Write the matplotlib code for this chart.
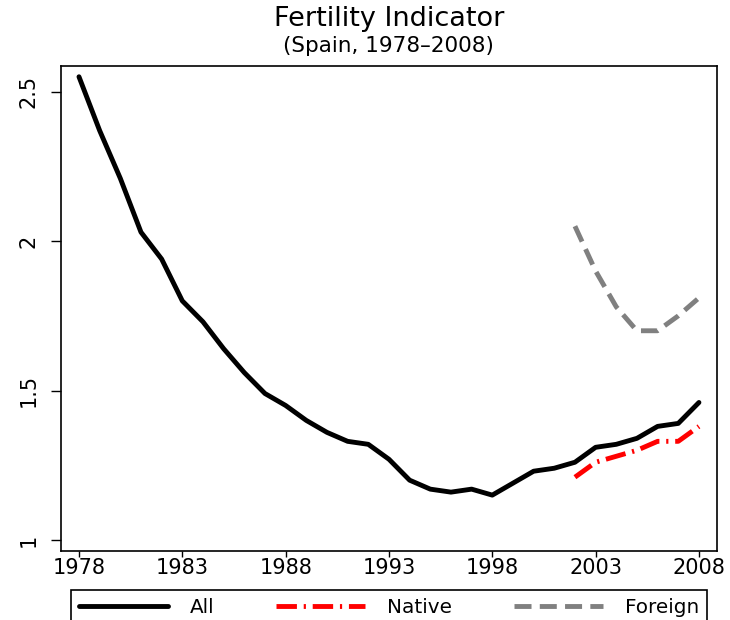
import matplotlib
matplotlib.use("Agg")
import matplotlib.pyplot as plt

years = list(range(1978, 2009))
all_tfr = [2.55, 2.37, 2.21, 2.03, 1.94, 1.80, 1.73, 1.64, 1.56, 1.49,
           1.45, 1.40, 1.36, 1.33, 1.32, 1.27, 1.20, 1.17, 1.16, 1.17,
           1.15, 1.19, 1.23, 1.24, 1.26, 1.31, 1.32, 1.34, 1.38, 1.39, 1.46]

years_recent = list(range(2002, 2009))
native_tfr = [1.21, 1.26, 1.28, 1.30, 1.33, 1.33, 1.38]
foreign_tfr = [2.05, 1.90, 1.78, 1.70, 1.70, 1.75, 1.81]

xticks = [1978, 1983, 1988, 1993, 1998, 2003, 2008]
yticks = [1, 1.5, 2, 2.5]
ytick_labels = ["1", "1.5", "2", "2.5"]

plt.rcParams['font.family'] = ['DejaVu Sans']

fig = plt.figure(figsize=(7.3, 6.2), dpi=100)
ax = fig.add_axes([61 / 730, 1 - 550.7 / 620, 655.5 / 730, 485 / 620])

# line width about 5 px like the reference
ax.plot(years, all_tfr, color='black', lw=3.5, solid_capstyle='round',
        solid_joinstyle='round', label='All')
ax.plot(years_recent, native_tfr, color='red', lw=3.5,
        dashes=[4.2, 1.4, 0.45, 1.4], label='Native')
ax.plot(years_recent, foreign_tfr, color='#808080', lw=3.5,
        dashes=[3.5, 1.7], label='Foreign')

ax.set_xlim(1977.13, 2008.85)
ax.set_ylim(0.964, 2.587)
ax.set_xticks(xticks)
ax.set_yticks(yticks)
ax.set_yticklabels(ytick_labels, rotation=90, va='center')
ax.tick_params(axis='x', length=4.5, width=1, labelsize=15, pad=1)
ax.tick_params(axis='y', length=7, width=1, labelsize=15, pad=9)
for s in ax.spines.values():
    s.set_linewidth(1.2)

cx = (61 + 716.5) / 2 / 730
fig.text(cx, 1 - 26 / 620, "Fertility Indicator", ha='center',
         va='baseline', fontsize=19.5)
fig.text(cx, 1 - 52.5 / 620, "(Spain, 1978\u20132008)", ha='center',
         va='baseline', fontsize=15.5)

leg = fig.legend(loc='upper left', ncol=3, mode='expand',
                 bbox_to_anchor=(71 / 730, 0, 636 / 730, 1 - 589.7 / 620),
                 bbox_transform=fig.transFigure, fontsize=14.4,
                 handlelength=4.45, handletextpad=1.07, borderpad=0.4,
                 borderaxespad=0, fancybox=False, framealpha=1,
                 edgecolor='black', columnspacing=2.5)
leg.get_frame().set_linewidth(1.2)

fig.savefig("out.png", dpi=100)
